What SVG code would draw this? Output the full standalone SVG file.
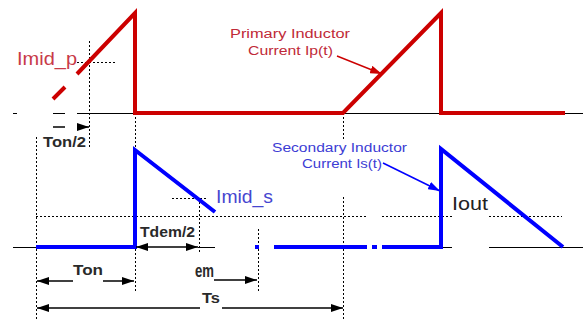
<svg xmlns="http://www.w3.org/2000/svg" width="585" height="320" viewBox="0 0 585 320">
<style>
.base{stroke:#000;stroke-width:1;fill:none}
.dot{stroke:#000;stroke-width:1;stroke-dasharray:2,2;fill:none}
.red{stroke:#cc0000;stroke-width:4;fill:none;stroke-linejoin:miter}
.blue{stroke:#0000ff;stroke-width:4;fill:none;stroke-linejoin:miter}
.dim{stroke:#000;stroke-width:1.5;fill:none}
.dimt{font-family:"Liberation Sans",Arial,sans-serif;font-weight:bold;font-size:15px;fill:#2a2a2a}
.big{font-family:"Liberation Sans",Arial,sans-serif;font-size:19px}
.lab{font-family:"Liberation Sans",Arial,sans-serif;font-size:12.5px}
</style>
<defs>
<marker id="ah" viewBox="0 0 12 8" refX="12" refY="4" markerWidth="12" markerHeight="8" markerUnits="userSpaceOnUse" orient="auto-start-reverse"><path d="M0,0 L12,4 L0,8 z" fill="#000"/></marker>
<marker id="ahr" viewBox="0 0 12 8" refX="12" refY="4" markerWidth="12" markerHeight="8" markerUnits="userSpaceOnUse" orient="auto"><path d="M0,0 L12,4 L0,8 z" fill="#cc0000"/></marker>
<marker id="ahb" viewBox="0 0 12 8" refX="12" refY="4" markerWidth="12" markerHeight="8" markerUnits="userSpaceOnUse" orient="auto"><path d="M0,0 L12,4 L0,8 z" fill="#0000ff"/></marker>
</defs>
<g id="axes">
<path class="base" d="M13,113.5 H17 M53,113.5 H65 M77,113.5 H583"/>
<path class="base" d="M13,247.5 H36 M198,247.5 H215 M441,247.5 H452 M489,247.5 H583"/>
</g>
<g id="guides">
<path class="dot" d="M89.5,41 V148 M77,62.5 H117"/>
<path class="dot" d="M36.5,137 V320 M135.5,113 V293 M199.5,198 V252 M258.5,229 V292"/>
<path class="dot" d="M343.5,113 V140 M343.5,197 V320"/>
<path class="dot" d="M172,198.5 H206 M36,216.5 H367 M382,216.5 H452 M489,216.5 H562"/>
</g>
<g id="primary-current">
<path class="red" d="M53,99 L65,87 M77,74 L135,13 V113 H343 L441,13 V113 H565"/>
</g>
<g id="secondary-current">
<path class="blue" d="M36,247 H135 V150 L215,212"/>
<path class="blue" d="M255,247 H259 M274,247 H367 M372,247 H377 M382,247 H441 V149 L563,247"/>
</g>
<g id="connectors">
<line class="dim" x1="53" y1="127" x2="65" y2="127"/>
<line class="dim" x1="77" y1="127" x2="89" y2="127" marker-end="url(#ah)"/>
<line class="dim" x1="37" y1="281" x2="73" y2="281" marker-start="url(#ah)"/>
<line class="dim" x1="103" y1="281" x2="134" y2="281" marker-end="url(#ah)"/>
<line class="dim" x1="136" y1="247" x2="198" y2="247" marker-start="url(#ah)" marker-end="url(#ah)"/>
<line class="dim" x1="214" y1="280" x2="257" y2="280" marker-end="url(#ah)"/>
<line class="dim" x1="37" y1="308" x2="200" y2="308" marker-start="url(#ah)"/>
<line class="dim" x1="222" y1="308" x2="343" y2="308" marker-end="url(#ah)"/>
<line x1="337" y1="56" x2="382" y2="74" stroke="#cc0000" stroke-width="1.5" marker-end="url(#ahr)"/>
<line x1="383" y1="163" x2="440" y2="191" stroke="#0000ff" stroke-width="1.5" marker-end="url(#ahb)"/>
</g>
<g id="label-imid-p"><text class="big" x="17" y="65" fill="#c83a48" textLength="60" lengthAdjust="spacingAndGlyphs">Imid_p</text></g>
<g id="label-ton2"><text class="dimt" x="43" y="147" textLength="43" lengthAdjust="spacingAndGlyphs">Ton/2</text></g>
<g id="label-primary">
<text class="lab" x="230" y="38" fill="#c02a38" textLength="120" lengthAdjust="spacingAndGlyphs">Primary Inductor</text>
<text class="lab" x="248" y="55" fill="#c02a38" textLength="85" lengthAdjust="spacingAndGlyphs">Current Ip(t)</text>
</g>
<g id="label-secondary">
<text class="lab" x="272" y="152" fill="#3c3cd4" textLength="135" lengthAdjust="spacingAndGlyphs">Secondary Inductor</text>
<text class="lab" x="302" y="168" fill="#3c3cd4" textLength="80" lengthAdjust="spacingAndGlyphs">Current Is(t)</text>
</g>
<g id="label-imid-s"><text class="big" x="216" y="203" fill="#4646d0" textLength="57" lengthAdjust="spacingAndGlyphs">Imid_s</text></g>
<g id="label-iout"><text class="big" x="452" y="210" fill="#222" textLength="36" lengthAdjust="spacingAndGlyphs">Iout</text></g>
<g id="label-tdem2"><text class="dimt" x="140" y="237" textLength="55" lengthAdjust="spacingAndGlyphs">Tdem/2</text></g>
<g id="label-ton"><text class="dimt" x="73" y="275" textLength="30" lengthAdjust="spacingAndGlyphs">Ton</text></g>
<g id="label-tdem"><text class="dimt" x="195" y="277" style="font-size:18px" textLength="19" lengthAdjust="spacingAndGlyphs">em</text></g>
<g id="label-ts"><text class="dimt" x="202" y="303" textLength="18" lengthAdjust="spacingAndGlyphs">Ts</text></g>
</svg>
